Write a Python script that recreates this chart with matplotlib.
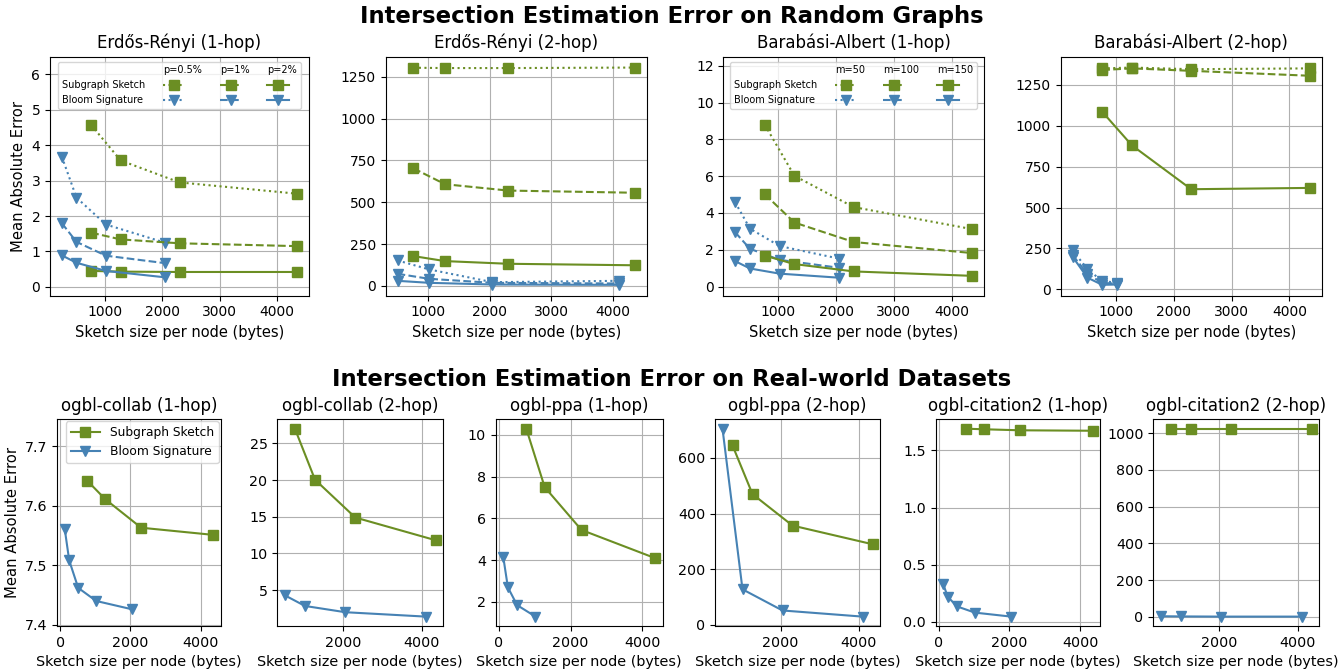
import matplotlib
matplotlib.use("Agg")
import matplotlib.pyplot as plt
from matplotlib.lines import Line2D
from matplotlib.ticker import MultipleLocator

GREEN = '#6b8e23'
BLUE = '#4682b4'

# ---------------- data ----------------
# sketch sizes (bytes)
ss_x = [768, 1280, 2304, 4352]
bs_x_small = [256, 512, 1024, 2048]
bs_x_large = [512, 1024, 2048, 4096]
bs_x_ba2 = [256, 512, 768, 1024]
bs_x_real1 = [128, 256, 512, 1024, 2048]
bs_x_ppa1 = [128, 256, 512, 1024]

# Erdos-Renyi 1-hop (p=0.5%, 1%, 2%)
er1_ss_p05 = [4.57, 3.57, 2.95, 2.63]
er1_ss_p1 = [1.53, 1.34, 1.23, 1.15]
er1_ss_p2 = [0.45, 0.43, 0.42, 0.42]
er1_bs_p05 = [3.68, 2.52, 1.76, 1.25]
er1_bs_p1 = [1.80, 1.27, 0.88, 0.67]
er1_bs_p2 = [0.89, 0.68, 0.45, 0.27]

# Erdos-Renyi 2-hop
er2_ss_p05 = [1305, 1303, 1303, 1306]
er2_ss_p1 = [703, 608, 570, 557]
er2_ss_p2 = [178, 148, 132, 123]
er2_bs_p05 = [152, 98, 22, 30]
er2_bs_p1 = [72, 42, 18, 14]
er2_bs_p2 = [30, 18, 8, 6]

# Barabasi-Albert 1-hop (m=50, 100, 150)
ba1_ss_m50 = [8.80, 6.02, 4.32, 3.12]
ba1_ss_m100 = [5.02, 3.48, 2.42, 1.82]
ba1_ss_m150 = [1.68, 1.22, 0.82, 0.58]
ba1_bs_m50 = [4.58, 3.15, 2.20, 1.52]
ba1_bs_m100 = [2.95, 2.05, 1.45, 1.02]
ba1_bs_m150 = [1.38, 0.98, 0.70, 0.48]

# Barabasi-Albert 2-hop
ba2_ss_m50 = [1350, 1355, 1345, 1350]
ba2_ss_m100 = [1340, 1350, 1335, 1305]
ba2_ss_m150 = [1085, 880, 612, 620]
ba2_bs_m50 = [238, 125, 50, 42]
ba2_bs_m100 = [210, 95, 40, 35]
ba2_bs_m150 = [200, 72, 28, 30]

# Real-world datasets
collab1_ss = [7.642, 7.611, 7.563, 7.551]
collab1_bs = [7.561, 7.508, 7.462, 7.440, 7.426]
collab2_ss = [27.0, 20.05, 14.9, 11.8]
collab2_bs = [4.3, 2.85, 2.0, 1.4]
ppa1_ss = [10.3, 7.5, 5.45, 4.1]
ppa1_bs = [4.15, 2.7, 1.85, 1.3]
ppa2_ss = [645, 470, 357, 290]
ppa2_bs = [705, 128, 52, 30]
cit1_ss = [1.690, 1.685, 1.676, 1.672]
cit1_bs = [0.33, 0.22, 0.135, 0.08, 0.045]
cit2_ss = [1025, 1025, 1025, 1025]
cit2_bs = [3, 2, 1, 1]

top_titles = ['Erdős-Rényi (1-hop)', 'Erdős-Rényi (2-hop)',
              'Barabási-Albert (1-hop)', 'Barabási-Albert (2-hop)']
er_params = ['p=0.5%', 'p=1%', 'p=2%']
ba_params = ['m=50', 'm=100', 'm=150']
styles = [':', '--', '-']
bottom_titles = ['ogbl-collab (1-hop)', 'ogbl-collab (2-hop)', 'ogbl-ppa (1-hop)',
                 'ogbl-ppa (2-hop)', 'ogbl-citation2 (1-hop)', 'ogbl-citation2 (2-hop)']
xlabel = 'Sketch size per node (bytes)'
ylabel = 'Mean Absolute Error'

# ---------------- figure ----------------
W, H = 1344, 670
fig = plt.figure(figsize=(W / 100, H / 100), dpi=100)


def px_axes(left, top, right, bottom):
    return fig.add_axes([left / W, 1 - bottom / H, (right - left) / W, (bottom - top) / H])


top_boxes = [(50, 56.7, 309, 295.7), (385.7, 56.7, 646.7, 295.7),
             (723.3, 56.7, 984, 295.7), (1060.7, 56.7, 1321.7, 295.7)]
bot_boxes = [(57.3, 419.3, 220.5, 626), (277.3, 419.3, 443.3, 626),
             (495.7, 419.3, 662.7, 626), (715, 419.3, 880, 626),
             (935.7, 419.3, 1100, 626), (1153.3, 419.3, 1319.3, 626)]

top_ss = [[er1_ss_p05, er1_ss_p1, er1_ss_p2], [er2_ss_p05, er2_ss_p1, er2_ss_p2],
          [ba1_ss_m50, ba1_ss_m100, ba1_ss_m150], [ba2_ss_m50, ba2_ss_m100, ba2_ss_m150]]
top_bs = [[er1_bs_p05, er1_bs_p1, er1_bs_p2], [er2_bs_p05, er2_bs_p1, er2_bs_p2],
          [ba1_bs_m50, ba1_bs_m100, ba1_bs_m150], [ba2_bs_m50, ba2_bs_m100, ba2_bs_m150]]
top_bsx = [bs_x_small, bs_x_large, bs_x_small, bs_x_ba2]
top_ylims = [(-0.25, 6.5), None, (-0.5, 12.5), None]
top_ysteps = [1, 250, 2, 250]
mk = dict(markersize=6.5, linewidth=1.5)

for i in range(4):
    ax = px_axes(*top_boxes[i])
    ax.set_axisbelow(True)
    ax.grid(True, color='#b0b0b0', linewidth=0.8)
    for j in range(3):
        ax.plot(ss_x, top_ss[i][j], color=GREEN, marker='s', linestyle=styles[j], **mk)
        ax.plot(top_bsx[i], top_bs[i][j], color=BLUE, marker='v', linestyle=styles[j], **mk)
    ax.set_title(top_titles[i], fontsize=12)
    ax.set_xlabel(xlabel, fontsize=10.5)
    ax.tick_params(labelsize=10)
    ax.xaxis.set_major_locator(MultipleLocator(1000))
    ax.yaxis.set_major_locator(MultipleLocator(top_ysteps[i]))
    if top_ylims[i] is not None:
        ax.set_ylim(*top_ylims[i])
    if i == 0:
        ax.set_ylabel(ylabel, fontsize=10.6)
    if i in (0, 2):
        params = er_params if i == 0 else ba_params
        blank = Line2D([], [], linestyle='none', marker=None)
        handles = [blank, blank, blank]
        labels = ['', 'Subgraph Sketch', 'Bloom Signature']
        for j in range(3):
            handles += [blank,
                        Line2D([], [], color=GREEN, marker='s', linestyle=styles[j], **mk),
                        Line2D([], [], color=BLUE, marker='v', linestyle=styles[j], **mk)]
            labels += [params[j], '', '']
        hl = 2.25
        ax.legend(handles, labels, ncol=4, loc='upper center', fontsize=7,
                  handlelength=hl, handletextpad=-hl, columnspacing=1.85,
                  numpoints=1, labelspacing=0.5, borderaxespad=0.5)

bot_ss = [collab1_ss, collab2_ss, ppa1_ss, ppa2_ss, cit1_ss, cit2_ss]
bot_bs = [collab1_bs, collab2_bs, ppa1_bs, ppa2_bs, cit1_bs, cit2_bs]
bot_bsx = [bs_x_real1, bs_x_large, bs_x_ppa1, bs_x_large, bs_x_real1, bs_x_large]
bot_ysteps = [0.1, 5, 2, 200, 0.5, 200]

for i in range(6):
    ax = px_axes(*bot_boxes[i])
    ax.set_axisbelow(True)
    ax.grid(True, color='#b0b0b0', linewidth=0.8)
    ax.plot(ss_x, bot_ss[i], color=GREEN, marker='s', label='Subgraph Sketch', **mk)
    ax.plot(bot_bsx[i], bot_bs[i], color=BLUE, marker='v', label='Bloom Signature', **mk)
    ax.set_title(bottom_titles[i], fontsize=12)
    ax.set_xlabel(xlabel, fontsize=10.4)
    ax.tick_params(labelsize=10.3)
    ax.xaxis.set_major_locator(MultipleLocator(2000))
    ax.yaxis.set_major_locator(MultipleLocator(bot_ysteps[i]))
    if i == 0:
        ax.set_ylabel(ylabel, fontsize=10.6)
        ax.set_ylim(7.398, 7.745)
        ax.legend(loc='upper right', fontsize=8.8, borderaxespad=0.15, handlelength=2.4)

fig.text(0.5, 1 - 17 / H, 'Intersection Estimation Error on Random Graphs',
         ha='center', va='center', fontsize=16.4, fontweight='bold')
fig.text(0.5, 1 - 380 / H, 'Intersection Estimation Error on Real-world Datasets',
         ha='center', va='center', fontsize=16.4, fontweight='bold')

fig.savefig('out.png', dpi=100)
